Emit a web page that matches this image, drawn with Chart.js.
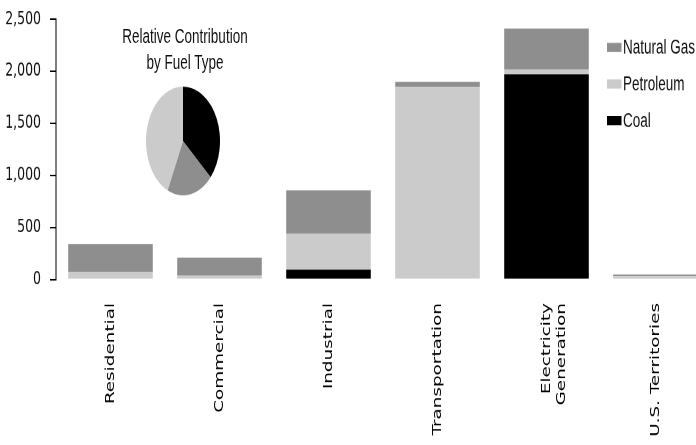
<!DOCTYPE html>
<html>
<head>
<meta charset="utf-8">
<script src="https://cdn.jsdelivr.net/npm/chart.js@4.4.1/dist/chart.umd.min.js"></script>
<style>
  html, body { margin: 0; padding: 0; background: #fff; overflow: hidden; }
  #frame { position: relative; width: 696px; height: 445px; overflow: hidden; }
  /* the whole figure is laid out short and then stretched tall */
  #stretch { position: absolute; left: 0; top: 0; width: 710px; height: 303px;
             transform-origin: 0 0; transform: scaleY(1.4686); }
  #bars { position: absolute; left: 0; top: 0; }
  #pieBox { position: absolute; left: 146px; top: 58.8px; width: 74px; height: 74px; }
  #pieTitle { position: absolute; left: 105px; top: 16px; width: 160px; text-align: center;
              font: 13.5px 'Liberation Sans', Arial, sans-serif; line-height: 18.4px; color: #111; }
</style>
</head>
<body>
<div id="frame">
  <div id="stretch">
    <canvas id="bars" width="710" height="303"></canvas>
    <div id="pieTitle">Relative Contribution<br>by Fuel Type</div>
    <div id="pieBox"><canvas id="pie" width="74" height="74"></canvas></div>
  </div>
</div>
<script>
const sectors = ['Residential', 'Commercial', 'Industrial', 'Transportation',
                 ['Electricity', 'Generation'], 'U.S. Territories'];
const coal       = [0, 0, 95, 0, 1970, 0];
const petroleum  = [75, 40, 345, 1850, 45, 30];
const naturalGas = [266, 170, 416, 48, 395, 18];
const yTicks = [0, 500, 1000, 1500, 2000, 2500];

const fuelNames  = ['Coal', 'Natural Gas', 'Petroleum'];
const fuelShares = [36.6, 20.2, 43.2];

const COAL = '#000000', PETRO = '#cbcbcb', GAS = '#8e8e8e';

// legend stacked top-down in reverse dataset order, drawn over the plot
const sideLegend = {
  id: 'sideLegend',
  afterDraw(chart) {
    const ctx = chart.ctx;
    const items = chart.data.datasets.slice().reverse();
    ctx.save();
    ctx.font = "13.5px 'Liberation Sans', Arial, sans-serif";
    ctx.textBaseline = 'middle';
    items.forEach((ds, i) => {
      const y = 32.3 + i * 24.9;
      ctx.fillStyle = ds.backgroundColor;
      ctx.fillRect(607, y - 3.1, 14.5, 6.2);
      ctx.fillStyle = '#111';
      ctx.fillText(ds.label, 623, y + 0.5);
    });
    ctx.restore();
  }
};

new Chart(document.getElementById('bars'), {
  type: 'bar',
  data: {
    labels: sectors,
    datasets: [
      { label: 'Coal', data: coal, backgroundColor: COAL },
      { label: 'Petroleum', data: petroleum, backgroundColor: PETRO },
      { label: 'Natural Gas', data: naturalGas, backgroundColor: GAS }
    ]
  },
  options: {
    responsive: false,
    animation: false,
    devicePixelRatio: 2,
    layout: { padding: { top: 13, right: 0, bottom: 0, left: 0 } },
    datasets: { bar: { categoryPercentage: 1, barPercentage: 0.776 } },
    scales: {
      x: {
        stacked: true,
        grid: { display: false, drawTicks: false },
        border: { display: false },
        ticks: {
          autoSkip: false,
          minRotation: 90,
          maxRotation: 90,
          padding: 16,
          color: '#000',
          font: { family: "'DejaVu Sans', Verdana, sans-serif", size: 12.5 }
        },
        afterFit: s => { s.height = 112.7; }
      },
      y: {
        stacked: true,
        min: 0,
        max: 2500,
        afterBuildTicks: s => { s.ticks = yTicks.map(v => ({ value: v })); },
        ticks: {
          color: '#111',
          padding: 9,
          font: { family: "'DejaVu Sans', Verdana, sans-serif", size: 12.5 }
        },
        grid: { drawOnChartArea: false, drawTicks: true, tickLength: 6, color: '#000' },
        border: { display: true, color: '#000', width: 1 },
        // keep the top of the axis at the layout padding, not label padding
        afterFit: s => { s.width = 56; s.paddingTop = 13; s.paddingBottom = 0; }
      }
    },
    plugins: {
      legend: { display: false },
      tooltip: { enabled: false }
    }
  },
  plugins: [sideLegend]
});

new Chart(document.getElementById('pie'), {
  type: 'pie',
  data: {
    labels: fuelNames,
    datasets: [{
      data: fuelShares,
      backgroundColor: [COAL, GAS, PETRO],
      borderWidth: 0
    }]
  },
  options: {
    responsive: false,
    animation: false,
    devicePixelRatio: 2,
    layout: { padding: 0 },
    plugins: {
      legend: { display: false },
      tooltip: { enabled: false }
    }
  }
});
</script>
</body>
</html>
